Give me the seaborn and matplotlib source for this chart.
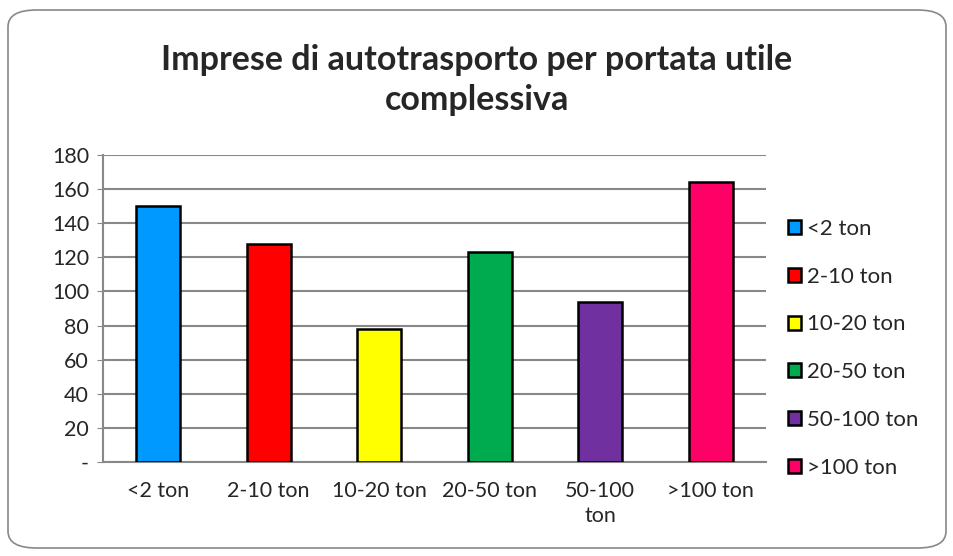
import numpy as np
import pandas as pd
import matplotlib
matplotlib.use("Agg")
import matplotlib.pyplot as plt
import seaborn as sns
from matplotlib.patches import FancyBboxPatch

categories = ["<2 ton", "2-10 ton", "10-20 ton", "20-50 ton", "50-100 ton", ">100 ton"]
tick_labels = ["<2 ton", "2-10 ton", "10-20 ton", "20-50 ton", "50-100\nton", ">100 ton"]
values = [150, 128, 78, 123, 94, 164]
colors = ["#0099FF", "#FF0000", "#FFFF00", "#00AA4F", "#7030A0", "#FF0066"]
y_ticks = [0, 20, 40, 60, 80, 100, 120, 140, 160, 180]
y_tick_labels = ["-"] + [str(v) for v in y_ticks[1:]]

df = pd.DataFrame({"cat": categories, "val": values})

sns.set_style("white")
plt.rcParams["font.family"] = ["Lato", "DejaVu Sans"]

fig = plt.figure(figsize=(9.54, 5.56), dpi=100)
ax = fig.add_axes([103 / 954, 1 - 462 / 556, (766 - 103) / 954, (462 - 155) / 556])

sns.barplot(data=df, x="cat", y="val", hue="cat", palette=colors, order=categories,
            hue_order=categories, dodge=False, width=0.4, edgecolor="black",
            linewidth=1.8, saturation=1, ax=ax, legend=True, zorder=3)

ax.set_ylim(0, 180)
ax.set_xlim(-0.5, 5.5)
ax.set_yticks(y_ticks)
ax.set_yticklabels(y_tick_labels, fontsize=15.5)
ax.set_xticks(range(len(categories)))
ax.set_xticklabels(tick_labels, fontsize=15.5, linespacing=1.3)
ax.tick_params(axis="x", length=0, pad=14)
ax.tick_params(axis="y", length=4, color="#888888", direction="out", pad=6, left=True)
ax.set_xlabel("")
ax.set_ylabel("")
ax.yaxis.grid(True, color="#888888", linewidth=1.5, zorder=0)
for side in ["top", "right"]:
    ax.spines[side].set_visible(False)
for side in ["left", "bottom"]:
    ax.spines[side].set_color("#888888")
    ax.spines[side].set_linewidth(1.5)

handles, labels = ax.get_legend_handles_labels()
ax.get_legend().remove()
fig.legend(handles, labels, loc="upper left", bbox_to_anchor=(779 / 954, 1 - 210 / 556),
           frameon=False, fontsize=16, handlelength=0.6, handleheight=0.6,
           handletextpad=0.25, labelspacing=1.25, borderaxespad=0)

fig.text(0.5, 1 - 80 / 556, "Imprese di autotrasporto per portata utile\ncomplessiva",
         ha="center", va="center", fontsize=24.5, fontweight="bold", linespacing=1.28)

border = FancyBboxPatch((8 / 954, 8 / 556), 938 / 954, 538 / 556,
                        boxstyle="round,pad=0,rounding_size=0.03",
                        transform=fig.transFigure, fill=False,
                        edgecolor="#888888", linewidth=1.2)
fig.patches.append(border)

fig.savefig("out.png", dpi=100)
